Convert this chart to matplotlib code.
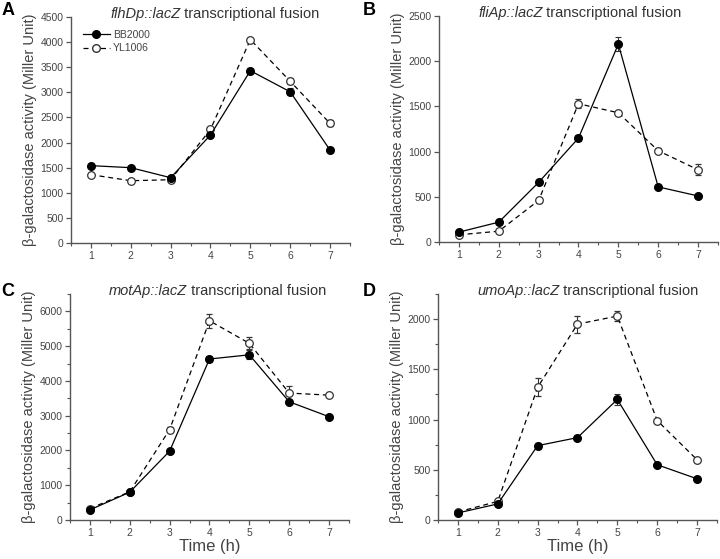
import matplotlib.pyplot as plt
from matplotlib.ticker import MultipleLocator
from matplotlib.lines import Line2D

plt.rcParams['font.family'] = ['Liberation Sans', 'DejaVu Sans']

# Time points (h)
hours = [1, 2, 3, 4, 5, 6, 7]

# Panel A: flhDp::lacZ
a_bb = [1540, 1500, 1300, 2150, 3430, 3010, 1850]
a_bb_err = [30, 30, 30, 40, 60, 70, 30]
a_yl = [1360, 1240, 1260, 2260, 4050, 3220, 2380]
a_yl_err = [30, 30, 40, 40, 40, 60, 60]

# Panel B: fliAp::lacZ
b_bb = [110, 220, 660, 1150, 2190, 610, 510]
b_bb_err = [15, 15, 20, 30, 75, 20, 15]
b_yl = [80, 120, 460, 1530, 1430, 1010, 800]
b_yl_err = [20, 20, 25, 50, 25, 25, 60]

# Panel C: motAp::lacZ
c_bb = [290, 800, 1980, 4630, 4750, 3400, 2970]
c_bb_err = [30, 30, 40, 80, 130, 50, 40]
c_yl = [330, 810, 2600, 5730, 5080, 3650, 3590]
c_yl_err = [40, 40, 60, 200, 170, 200, 40]

# Panel D: umoAp::lacZ
d_bb = [70, 160, 740, 820, 1200, 550, 410]
d_bb_err = [10, 15, 30, 20, 55, 15, 15]
d_yl = [80, 185, 1320, 1950, 2030, 990, 600]
d_yl_err = [10, 15, 90, 85, 50, 20, 20]

panels = [
    ('A', 'flhDp::lacZ', a_bb, a_bb_err, a_yl, a_yl_err, 4500, 500, None),
    ('B', 'fliAp::lacZ', b_bb, b_bb_err, b_yl, b_yl_err, 2500, 500, None),
    ('C', 'motAp::lacZ', c_bb, c_bb_err, c_yl, c_yl_err, 6500, 1000, 500),
    ('D', 'umoAp::lacZ', d_bb, d_bb_err, d_yl, d_yl_err, 2250, 500, 250),
]

# axes boxes in figure fraction [left, bottom, width, height]
boxes = [
    [0.0986, 0.5653, 0.3875, 0.4043],
    [0.6097, 0.5670, 0.3875, 0.4043],
    [0.0972, 0.0698, 0.3875, 0.4043],
    [0.6083, 0.0698, 0.3875, 0.4043],
]
letter_pos = [(0.0, 1.0), (0.502, 1.0), (0.0, 0.497), (0.502, 0.497)]

grey = '#555555'
txt = '#444444'

fig = plt.figure(figsize=(7.2, 5.59), dpi=100)

for i, (letter, gene, bb, bb_e, yl, yl_e, ytop, ymaj, ymin) in enumerate(panels):
    ax = fig.add_axes(boxes[i])
    ax.errorbar(hours, yl, yerr=yl_e, color='black', ls=(0, (4, 3)), lw=0.9,
                marker='o', ms=5.5, mfc='white', mec='#333333', mew=0.9,
                ecolor='#333333', elinewidth=0.8, capsize=2.5, capthick=0.8,
                zorder=3)
    ax.errorbar(hours, bb, yerr=bb_e, color='black', ls='-', lw=0.9,
                marker='o', ms=5.5, mfc='black', mec='black',
                ecolor='#333333', elinewidth=0.8, capsize=2.5, capthick=0.8,
                zorder=4)
    ax.set_xlim(0.5, 7.5)
    ax.set_ylim(0, ytop)
    ax.xaxis.set_major_locator(MultipleLocator(1))
    ax.xaxis.set_minor_locator(MultipleLocator(0.5))
    ax.yaxis.set_major_locator(MultipleLocator(ymaj))
    if ymin:
        ax.yaxis.set_minor_locator(MultipleLocator(ymin))
    for s in ['top', 'right']:
        ax.spines[s].set_visible(False)
    for s in ['left', 'bottom']:
        ax.spines[s].set_color(grey)
        ax.spines[s].set_linewidth(1.0)
    ax.tick_params(which='major', direction='out', length=3.5, width=0.9,
                   color=grey, labelsize=7.5, labelcolor=txt, pad=2)
    ax.tick_params(which='minor', direction='out', length=2, width=0.8, color=grey)
    ax.set_ylabel('\u03b2-galactosidase activity (Miller Unit)', fontsize=10.5,
                  color=txt, labelpad=2)
    if i >= 2:
        ax.set_xlabel('Time (h)', fontsize=12, color=txt, labelpad=1)

    # title: italic construct name followed by plain text
    t1 = ax.text(0.14, 1.015, gene, transform=ax.transAxes, fontsize=10.5,
                 style='italic', color='#333333', va='center', ha='left')
    ax.annotate(' transcriptional fusion', xy=(1, 0.5), xycoords=t1,
                fontsize=10.5, color='#333333', va='center', ha='left')

    fig.text(letter_pos[i][0] + 0.002, letter_pos[i][1] - 0.003, letter,
             fontsize=13, fontweight='bold', va='top', ha='left')

    if i == 0:
        handles = [
            Line2D([], [], color='black', ls='-', lw=0.9, marker='o', ms=5.5,
                   mfc='black', mec='black'),
            Line2D([], [], color='black', ls=(0, (4, 3)), lw=0.9, marker='o',
                   ms=5.5, mfc='white', mec='#333333'),
        ]
        ax.legend(handles, ['BB2000', 'YL1006'], loc='upper left',
                  bbox_to_anchor=(0.02, 0.97), frameon=False, fontsize=7.5,
                  handlelength=2.6, labelspacing=0.3, borderaxespad=0.2,
                  handletextpad=0.3, labelcolor=txt)

fig.savefig('out.png', dpi=100)
